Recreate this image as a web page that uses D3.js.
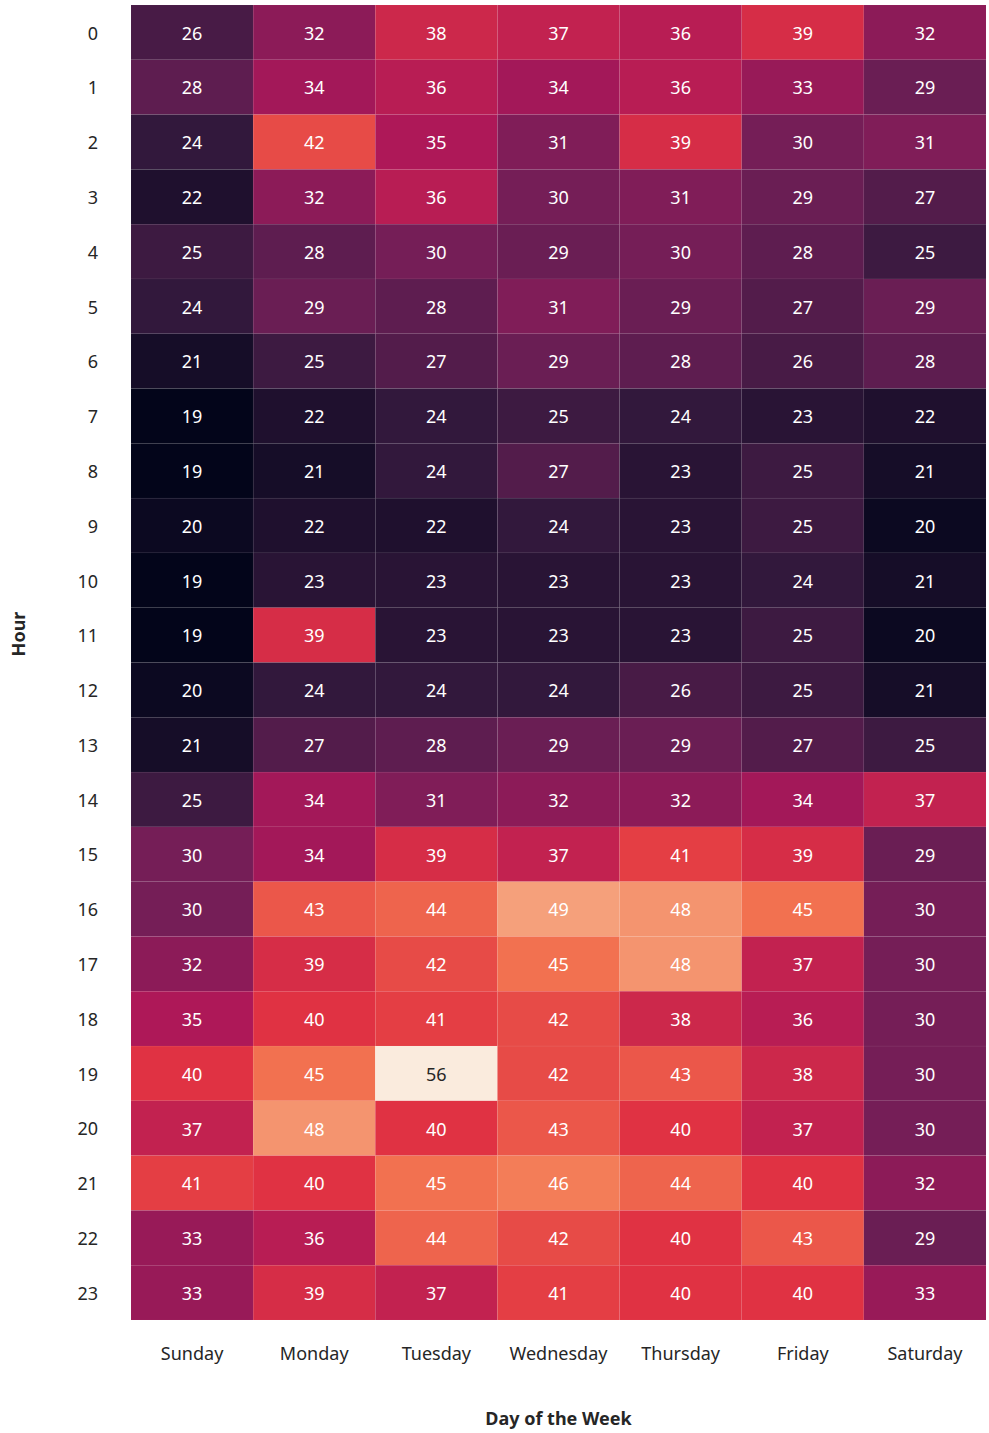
<!DOCTYPE html>
<html>
<head>
<meta charset="utf-8">
<script src="https://cdn.jsdelivr.net/npm/d3@7"></script>
<style>
  body { margin: 0; background: #fff; }
  text { font-family: "Noto Sans", Lato, sans-serif; }
</style>
</head>
<body>
<svg id="chart" width="989" height="1433"></svg>
<script>
// days on x, hours on y
const days = ["Sunday", "Monday", "Tuesday", "Wednesday", "Thursday", "Friday", "Saturday"];
const hours = d3.range(24).map(String);

// one row per hour, Sunday..Saturday
const values = [
  [26, 32, 38, 37, 36, 39, 32],
  [28, 34, 36, 34, 36, 33, 29],
  [24, 42, 35, 31, 39, 30, 31],
  [22, 32, 36, 30, 31, 29, 27],
  [25, 28, 30, 29, 30, 28, 25],
  [24, 29, 28, 31, 29, 27, 29],
  [21, 25, 27, 29, 28, 26, 28],
  [19, 22, 24, 25, 24, 23, 22],
  [19, 21, 24, 27, 23, 25, 21],
  [20, 22, 22, 24, 23, 25, 20],
  [19, 23, 23, 23, 23, 24, 21],
  [19, 39, 23, 23, 23, 25, 20],
  [20, 24, 24, 24, 26, 25, 21],
  [21, 27, 28, 29, 29, 27, 25],
  [25, 34, 31, 32, 32, 34, 37],
  [30, 34, 39, 37, 41, 39, 29],
  [30, 43, 44, 49, 48, 45, 30],
  [32, 39, 42, 45, 48, 37, 30],
  [35, 40, 41, 42, 38, 36, 30],
  [40, 45, 56, 42, 43, 38, 30],
  [37, 48, 40, 43, 40, 37, 30],
  [41, 40, 45, 46, 44, 40, 32],
  [33, 36, 44, 42, 40, 43, 29],
  [33, 39, 37, 41, 40, 40, 33]
];

// seaborn "rocket" stops
const rocket = ["#03051a", "#35193e", "#701f57", "#ad1759", "#e13342", "#f37651", "#f6b48f", "#faebdd"];

const svg = d3.select("#chart");
const margin = {top: 5, left: 131, right: 3, bottom: 113};
const width = 989 - margin.left - margin.right;
const height = 1433 - margin.top - margin.bottom;

const x = d3.scaleBand().domain(days).range([margin.left, margin.left + width]);
const y = d3.scaleBand().domain(hours).range([margin.top, margin.top + height]);

const flat = [];
values.forEach((row, i) => row.forEach((v, j) => flat.push({hour: hours[i], day: days[j], value: v})));

const color = d3.scaleSequential()
  .domain(d3.extent(flat, d => d.value))
  .interpolator(d3.piecewise(d3.interpolateRgb, rocket));

function lum(c) {
  const rgb = d3.rgb(c);
  const f = v => { v /= 255; return v <= 0.03928 ? v / 12.92 : Math.pow((v + 0.055) / 1.055, 2.4); };
  return 0.2126 * f(rgb.r) + 0.7152 * f(rgb.g) + 0.0722 * f(rgb.b);
}

const cells = svg.append("g").selectAll("g")
  .data(flat)
  .enter().append("g");

cells.append("rect")
  .attr("x", d => x(d.day))
  .attr("y", d => y(d.hour))
  .attr("width", x.bandwidth())
  .attr("height", y.bandwidth())
  .attr("fill", d => color(d.value))
  .attr("stroke", "rgba(255,255,255,0.05)")
  .attr("stroke-width", 0.6);

cells.append("text")
  .attr("x", d => x(d.day) + x.bandwidth() / 2)
  .attr("y", d => y(d.hour) + y.bandwidth() / 2 + 1)
  .attr("dy", "0.35em")
  .attr("text-anchor", "middle")
  .attr("font-size", 18)
  .attr("fill", d => lum(color(d.value)) > 0.6 ? "#262626" : "#fff")
  .text(d => d.value);

// axes (no lines, just labels)
const xAxis = svg.append("g")
  .attr("transform", `translate(0,${margin.top + height})`)
  .call(d3.axisBottom(x).tickSize(0).tickPadding(27));
const yAxis = svg.append("g")
  .attr("transform", `translate(${margin.left},0)`)
  .call(d3.axisLeft(y).tickSize(0).tickPadding(33));
[xAxis, yAxis].forEach(a => {
  a.select(".domain").remove();
  a.selectAll("text").attr("font-size", 18).attr("fill", "#262626")
    .style("font-family", "'Noto Sans', Lato, sans-serif");
});
yAxis.selectAll("text").attr("dy", "0.4em");

svg.append("text")
  .attr("x", margin.left + width / 2)
  .attr("y", 1425)
  .attr("text-anchor", "middle")
  .attr("font-size", 18)
  .attr("font-weight", "bold")
  .attr("fill", "#262626")
  .text("Day of the Week");

svg.append("text")
  .attr("transform", "translate(25,634) rotate(-90)")
  .attr("text-anchor", "middle")
  .attr("font-size", 18)
  .attr("font-weight", "bold")
  .attr("fill", "#262626")
  .text("Hour");
</script>
</body>
</html>
